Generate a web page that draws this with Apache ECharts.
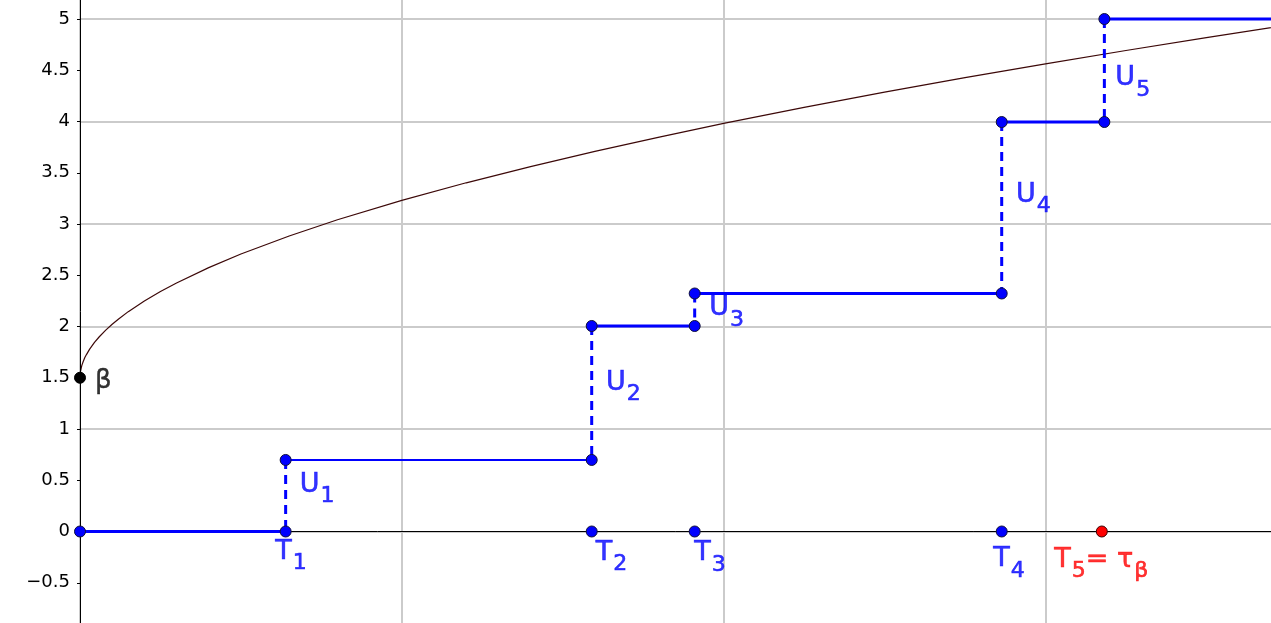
<!DOCTYPE html>
<html><head><meta charset="utf-8">
<script src="https://cdn.jsdelivr.net/npm/echarts@6/dist/echarts.min.js"></script>
<style>html,body{margin:0;padding:0;background:#fff}#c{width:1271px;height:623px}</style>
</head><body><div id="c"></div>
<script>
// ---- data ----
const jumpTimes = [0.639, 1.590, 1.910, 2.864, 3.183];   // T1..T5 (jump instants)
const levels = [0, 0.698, 2.005, 2.322, 3.995, 5.0];      // step heights
const tauBeta = 3.175;                                    // red point T5 = tau_beta
const betaValue = 1.5;
const stepEnd = 4;                                        // last step runs off the right edge
const curveX = [0, 0.0001, 0.0005, 0.001, 0.002, 0.004, 0.006, 0.01, 0.015, 0.02, 0.03, 0.045, 0.06, 0.08, 0.1, 0.12, 0.15, 0.2, 0.25, 0.3, 0.4, 0.5, 0.65, 0.8, 1.0, 1.2, 1.4, 1.6, 1.8, 2.0, 2.25, 2.5, 2.75, 3.0, 3.25, 3.5, 3.75];
const curveY = [1.5, 1.514, 1.533, 1.548, 1.568, 1.598, 1.623, 1.658, 1.697, 1.726, 1.779, 1.845, 1.900, 1.965, 2.022, 2.074, 2.145, 2.249, 2.342, 2.425, 2.574, 2.707, 2.883, 3.041, 3.23, 3.402, 3.560, 3.709, 3.848, 3.981, 4.138, 4.286, 4.428, 4.563, 4.693, 4.819, 4.940];
const tNames = ['1', '2', '3', '4', '5'];
const uNames = ['1', '2', '3', '4', '5'];
const yTickValues = [-0.5, 0, 0.5, 1, 1.5, 2, 2.5, 3, 3.5, 4, 4.5, 5];

// ---- styles ----
const FONT = 'DejaVu Sans';
const BLUE = '#0000ff';
const RED = '#ff0000';
const tOffsets = [[-10, 7], [4.5, 8.5], [0, 8.8], [-8, 14.8], [-47, 15.5]];
const uOffsets = [[14.5, -23.7], [14.8, -22.7], [15, -14.4], [14.8, -25.8], [11.5, -5.2]];
const segWidths = [3, 2, 3, 3, 3, 3];

function rich(color) {
  const stroke = { textBorderColor: color, textBorderWidth: 0.6 };
  return {
    m: Object.assign({ fontFamily: FONT, fontSize: 27, lineHeight: 27, color: color, verticalAlign: 'top' }, stroke),
    s: Object.assign({ fontFamily: FONT, fontSize: 22, lineHeight: 22, color: color, verticalAlign: 'top', padding: [14, 0, 0, 1] }, stroke),
    b: { fontFamily: FONT, fontSize: 26, lineHeight: 26, color: '#000', verticalAlign: 'top', textBorderColor: '#000', textBorderWidth: 0.4 }
  };
}

const series = [];
series.push({
  type: 'line', data: curveX.map((x, i) => [x, curveY[i]]), showSymbol: false, smooth: false,
  lineStyle: { color: '#3c0808', width: 1.2 }, z: 2, silent: true
});
levels.forEach((lv, i) => {
  const x0 = i === 0 ? 0 : jumpTimes[i - 1];
  const x1 = i < jumpTimes.length ? jumpTimes[i] : stepEnd;
  series.push({
    type: 'line', data: [[x0, lv], [x1, lv]], showSymbol: false,
    lineStyle: { color: BLUE, width: segWidths[i] }, z: 3, silent: true
  });
});
jumpTimes.forEach((t, i) => {
  series.push({
    type: 'line', data: [[t, levels[i + 1]], [t, levels[i]]], showSymbol: false,
    lineStyle: { color: BLUE, width: 3, type: [9, 6] }, z: 3, silent: true
  });
});
const pts = [[0, 0]];
jumpTimes.forEach((t, i) => {
  pts.push([t, levels[i]]);
  pts.push([t, levels[i + 1]]);
  if (i >= 1 && i <= 3) pts.push([t, 0]);
});
series.push({
  type: 'scatter', data: pts, symbolSize: 11, z: 5,
  itemStyle: { color: BLUE, borderColor: '#10103a', borderWidth: 1, opacity: 1 }
});
series.push({
  type: 'scatter', data: [[tauBeta, 0]], symbolSize: 11, z: 5,
  itemStyle: { color: RED, borderColor: '#3a0000', borderWidth: 1, opacity: 1 }
});
series.push({
  type: 'scatter', data: [[0, betaValue]], symbolSize: 11, z: 5,
  itemStyle: { color: '#000', borderColor: '#000', borderWidth: 1, opacity: 1 }
});
const labelData = [];
jumpTimes.forEach((t, i) => {
  const isLast = i === jumpTimes.length - 1;
  labelData.push({
    value: [isLast ? tauBeta : t, 0],
    label: {
      formatter: isLast ? '{m|T}{s|' + tNames[i] + '}{m|= τ}{s|β}' : '{m|T}{s|' + tNames[i] + '}',
      rich: rich(isLast ? RED : BLUE), offset: tOffsets[i]
    }
  });
  labelData.push({
    value: [t, (levels[i] + levels[i + 1]) / 2],
    label: { formatter: '{m|U}{s|' + uNames[i] + '}', rich: rich(BLUE), offset: uOffsets[i] }
  });
});
labelData.push({
  value: [0, betaValue],
  label: { formatter: '{b|β}', rich: rich('#000'), offset: [15.5, -9] }
});
series.push({
  type: 'scatter', data: labelData, symbolSize: 1, z: 6, silent: true,
  itemStyle: { color: 'rgba(0,0,0,0)' },
  label: { show: true, position: [0, 0], align: 'left', verticalAlign: 'top' }
});

const chart = echarts.init(document.getElementById('c'), null, { renderer: 'canvas' });
chart.setOption({
  animation: false,
  backgroundColor: '#ffffff',
  grid: { left: 80, right: -96.3, top: -32.25, bottom: -11, containLabel: false, outerBoundsMode: 'none' },
  xAxis: {
    type: 'value', min: 0, max: 4, interval: 1,
    axisLine: { show: true, onZero: true, lineStyle: { color: '#000', width: 1 } },
    axisTick: { show: false }, axisLabel: { show: false },
    splitLine: { show: true, lineStyle: { color: '#cbcbcb', width: 2 } }
  },
  yAxis: [{
    type: 'value', min: -1, max: 5.5, interval: 0.5, position: 'left', z: 3,
    axisLine: { show: true, onZero: false, lineStyle: { color: '#000', width: 1 } },
    axisTick: { show: true, length: 3, lineStyle: { color: '#000', width: 1 } },
    axisLabel: {
      show: true, margin: 10, fontFamily: FONT, fontSize: 18, color: '#000',
      showMinLabel: false, showMaxLabel: false,
      formatter: v => yTickValues.indexOf(v) >= 0 ? String(v).replace('-', '\u2212') : ''
    },
    splitLine: { show: false }
  }, {
    type: 'value', min: -1, max: 5.5, interval: 1, position: 'left', offset: 0,
    axisLine: { show: false }, axisTick: { show: false }, axisLabel: { show: false },
    splitLine: { show: true, lineStyle: { color: '#cbcbcb', width: 2 } }
  }],
  series: series
});
</script>
</body></html>
